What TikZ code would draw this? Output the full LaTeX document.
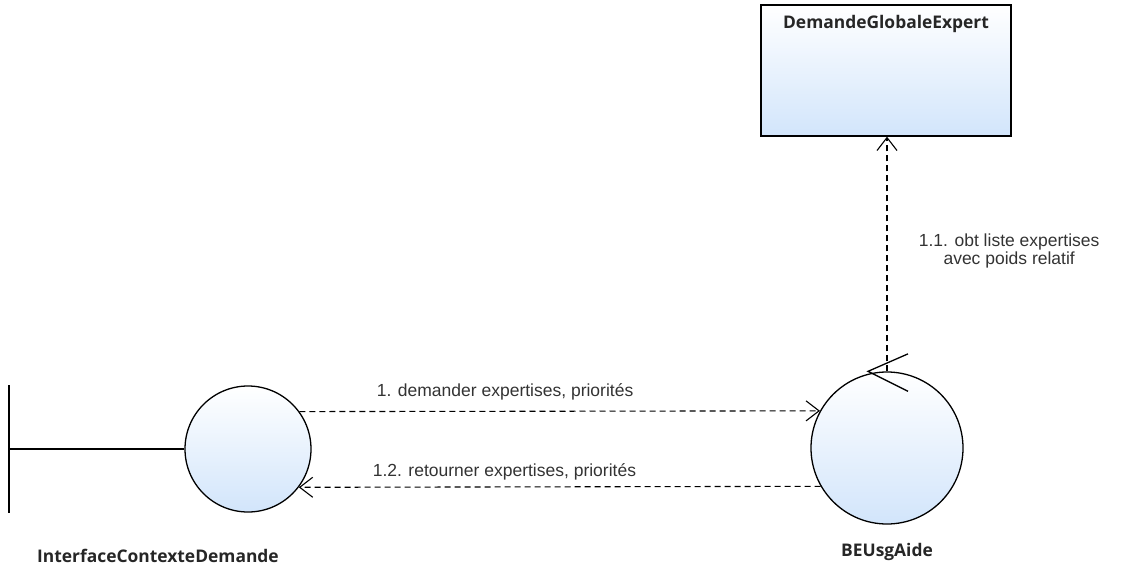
\documentclass[tikz,border=0pt]{standalone}
\usepackage{fontspec}
\setmainfont{Liberation Sans}
\newfontfamily\namefont{Open Sans}
\usepackage{tikz}
\usetikzlibrary{arrows.meta,positioning,calc,shadows}
\definecolor{umlblue}{RGB}{210,229,251}

\begin{document}
\begin{tikzpicture}[x=1pt,y=-1pt,
  obj/.style={draw,line width=1.3pt,top color=white,bottom color=umlblue},
  ctrl/.style={obj,circle,inner sep=0pt},
  ent/.style={obj,rectangle,inner sep=0pt,drop shadow={shadow xshift=1pt,shadow yshift=-1pt,fill=black!50,opacity=.6}},
  objname/.style={font=\namefont\bfseries\fontsize{17.4}{18}\selectfont,text=black!85,anchor=base},
  msg/.style={dash pattern=on 6pt off 4pt,line width=1.1pt,-{Straight Barb[length=13pt,width=20pt,line width=1.1pt]}},
  lbl/.style={font=\fontsize{17.5}{18}\selectfont,text=black!80,align=center}
]
  \useasboundingbox (0,0) rectangle (1122,565);
  \node[ctrl,minimum size=126pt] (ctx) at (248,449) {};
  \node[ctrl,minimum size=152pt] (beusg) at (887,448) {};
  \node[ent,minimum width=250pt,minimum height=131pt] (dge) at (886,70.5) {};
  \node[objname] (dgetitle) at ($(dge.north)+(0,24)$) {DemandeGlobaleExpert};
  \node[objname] (ctxname) at (158,562) {InterfaceContexteDemande};
  \node[objname] (beusgname) at (887,556) {BEUsgAide};
  \coordinate (bndtop) at (9,385);
  \coordinate (bndbot) at (9,513);
  \draw[line width=1.3pt] (bndtop) -- (bndbot);
  \draw[line width=1.3pt] (ctx.west) -- (ctx.west -| bndtop);
  \draw[line width=1.3pt] ($(beusg.north)+(21,-17.5)$) -- ($(beusg.north)+(-19,0)$) -- ($(beusg.north)+(21,20)$);
  \draw[msg] (ctx.36) -- node[lbl,pos=0.395,above=7pt]{1. demander expertises, priorités} (beusg.151);
  \draw[msg] (beusg.210) -- node[lbl,pos=0.606,above=3pt]{1.2. retourner expertises, priorités} (ctx.-37);
  \draw[msg] (beusg.north) -- node[lbl,pos=0.515,right=28pt]{1.1. obt liste expertises\\avec poids relatif} (beusg.north |- dge.south);
\end{tikzpicture}
\end{document}
